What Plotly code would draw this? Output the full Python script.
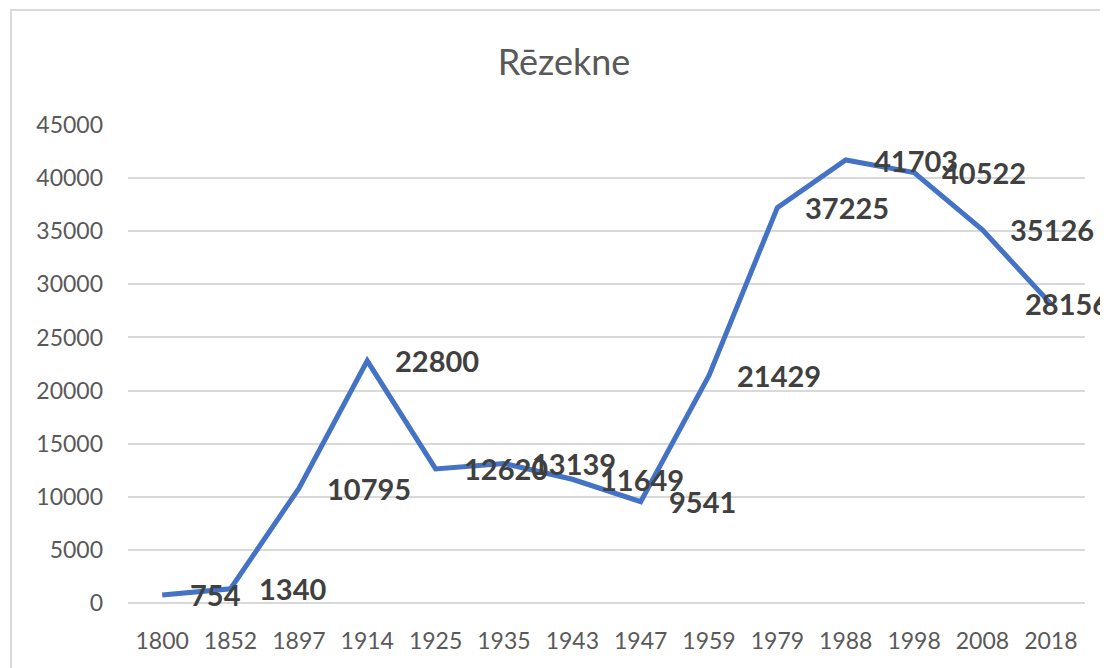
import plotly.graph_objects as go

years = ["1800", "1852", "1897", "1914", "1925", "1935", "1943", "1947",
         "1959", "1979", "1988", "1998", "2008", "2018"]
population = [754, 1340, 10795, 22800, 12620, 13139, 11649, 9541,
              21429, 37225, 41703, 40522, 35126, 28156]
y_ticks = [0, 5000, 10000, 15000, 20000, 25000, 30000, 35000, 40000, 45000]
title_text = "Rēzekne"

LINE_COLOR = "#4472C4"
GRID_COLOR = "#d9d9d9"
TICK_COLOR = "#595959"
LABEL_COLOR = "#404040"
FONT = "Lato"

W, H = 1100, 660  # page body adds an 8px margin

fig = go.Figure()
fig.add_trace(go.Scatter(
    x=years, y=population, mode="lines",
    line=dict(color=LINE_COLOR, width=5),
    hoverinfo="x+y", showlegend=False,
))

last = len(population) - 1
for i, val in enumerate(population):
    # the last label is pulled back inside the chart, as the original does
    shift = -28 if i == last else 26
    fig.add_annotation(
        x=i, y=val, xref="x", yref="y", text=str(val), showarrow=False,
        xanchor="left", yanchor="middle", xshift=shift,
        font=dict(family=FONT, size=29, color=LABEL_COLOR, weight="bold"),
    )

fig.add_shape(
    type="rect", xref="paper", yref="paper",
    x0=-0.1223, x1=1.04, y0=-0.16, y1=1.2406,
    line=dict(color=GRID_COLOR, width=2), fillcolor="rgba(0,0,0,0)",
    layer="below",
)

fig.update_layout(
    width=W, height=H,
    margin=dict(l=120, r=23, t=117, b=65),
    paper_bgcolor="white", plot_bgcolor="white",
    title=dict(text=title_text, x=556 / W, xanchor="center",
               y=1 - 54 / H, yanchor="middle",
               font=dict(family=FONT, size=36, color=TICK_COLOR)),
    font=dict(family=FONT),
    xaxis=dict(
        type="category", categoryorder="array", categoryarray=years,
        range=[-0.5, len(years) - 0.5],
        showgrid=False, showline=False, zeroline=False,
        tickfont=dict(family=FONT, size=23, color=TICK_COLOR),
        ticklabelstandoff=22,
    ),
    yaxis=dict(
        range=[0, 45000], tickvals=y_ticks,
        ticktext=[str(v) for v in y_ticks],
        showgrid=True, gridcolor=GRID_COLOR, gridwidth=2,
        zeroline=True, zerolinecolor=GRID_COLOR, zerolinewidth=2,
        showline=False,
        tickfont=dict(family=FONT, size=23, color=TICK_COLOR),
        ticklabelstandoff=24,
    ),
)

fig.write_html("out.html")
